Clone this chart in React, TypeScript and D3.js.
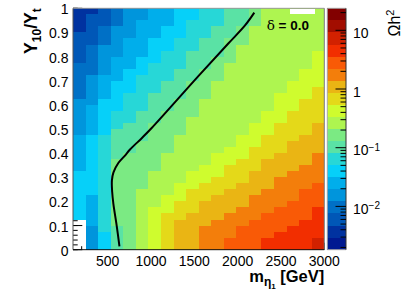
import React from "react";
import * as d3 from "d3";

// ---- bins ----
const massEdges = [100, 245, 390, 535, 680, 825, 970, 1115, 1260, 1405, 1550, 1695, 1840, 1985, 2130, 2275, 2420, 2565, 2710, 2855, 3000];
const ratioBinWidth = 0.025;

// ---- Omega h^2 per column, as runs [value, number of ratio bins] from Y10/Yt = 0 upward (null = empty bin) ----
const col00: [number | null, number][] = [[null, 5], [0.0397, 8], [0.0247, 6], [0.0154, 6], [0.0096, 6], [0.006, 5], [0.0037, 4]];
const col01: [number | null, number][] = [[0.0154, 4], [0.0247, 5], [0.0397, 10], [0.0247, 5], [0.0154, 5], [0.0096, 5], [0.006, 5], [0.0037, 1]];
const col02: [number | null, number][] = [[0.0397, 3], [0.0638, 16], [0.0397, 6], [0.0247, 4], [0.0154, 5], [0.0096, 3], [0.006, 3]];
const col03: [number | null, number][] = [[0.102, 4], [0.164, 11], [0.102, 5], [0.0638, 3], [0.0397, 5], [0.0247, 4], [0.0154, 5], [0.0096, 3]];
const col04: [number | null, number][] = [[0.164, 16], [0.102, 5], [0.0638, 5], [0.0397, 4], [0.0247, 5], [0.0154, 5]];
const col05: [number | null, number][] = [[0.264, 10], [0.164, 8], [0.102, 5], [0.0638, 6], [0.0397, 3], [0.0247, 6], [0.0154, 2]];
const col06: [number | null, number][] = [[0.424, 7], [0.264, 6], [0.164, 8], [0.102, 5], [0.0638, 5], [0.0397, 4], [0.0247, 5]];
const col07: [number | null, number][] = [[0.681, 6], [0.424, 3], [0.264, 7], [0.164, 7], [0.102, 5], [0.0638, 5], [0.0397, 4], [0.0247, 3]];
const col08: [number | null, number][] = [[1.09, 5], [0.681, 3], [0.424, 3], [0.264, 8], [0.164, 6], [0.102, 5], [0.0638, 5], [0.0397, 5]];
const col09: [number | null, number][] = [[1.09, 6], [0.681, 4], [0.424, 3], [0.264, 9], [0.164, 6], [0.102, 5], [0.0638, 5], [0.0397, 2]];
const col10: [number | null, number][] = [[1.75, 4], [1.09, 4], [0.681, 3], [0.424, 3], [0.264, 11], [0.164, 5], [0.102, 5], [0.0638, 5]];
const col11: [number | null, number][] = [[1.75, 5], [1.09, 4], [0.681, 3], [0.424, 4], [0.264, 12], [0.164, 4], [0.102, 5], [0.0638, 3]];
const col12: [number | null, number][] = [[2.82, 2], [1.75, 4], [1.09, 4], [0.681, 4], [0.424, 3], [0.264, 14], [0.164, 4], [0.102, 5]];
const col13: [number | null, number][] = [[2.82, 4], [1.75, 3], [1.09, 4], [0.681, 4], [0.424, 4], [0.264, 15], [0.164, 3], [0.102, 3]];
const col14: [number | null, number][] = [[2.82, 5], [1.75, 4], [1.09, 4], [0.681, 4], [0.424, 4], [0.264, 16], [0.164, 3]];
const col15: [number | null, number][] = [[4.53, 2], [2.82, 4], [1.75, 4], [1.09, 5], [0.681, 4], [0.424, 4], [0.264, 17]];
const col16: [number | null, number][] = [[4.53, 3], [2.82, 4], [1.75, 5], [1.09, 4], [0.681, 5], [0.424, 5], [0.264, 14]];
const col17: [number | null, number][] = [[4.53, 4], [2.82, 4], [1.75, 5], [1.09, 5], [0.681, 5], [0.424, 5], [0.264, 12]];
const col18: [number | null, number][] = [[4.53, 5], [2.82, 5], [1.75, 4], [1.09, 5], [0.681, 6], [0.424, 5], [0.264, 10]];
const col19: [number | null, number][] = [[7.27, 2], [4.53, 5], [2.82, 4], [1.75, 5], [1.09, 5], [0.681, 6], [0.424, 6], [0.264, 7]];
const columns = [col00, col01, col02, col03, col04, col05, col06, col07, col08, col09, col10, col11, col12, col13, col14, col15, col16, col17, col18, col19];

// ---- relic-density contour (black line) ----
const curveMass = [636, 604, 566, 552, 549, 567, 625, 700, 758, 893, 1008, 1557, 1892, 2085, 2192];
const curveRatio = [0.014, 0.1, 0.19, 0.24, 0.287, 0.32, 0.36, 0.39, 0.415, 0.462, 0.504, 0.723, 0.854, 0.929, 0.982];

// ---- axes ----
const xTicks = [500, 1000, 1500, 2000, 2500, 3000];
const xTickLabels = ["500", "1000", "1500", "2000", "2500", "3000"];
const yTicks = [0, 0.1, 0.2, 0.3, 0.4, 0.5, 0.6, 0.7, 0.8, 0.9, 1];
const yTickLabels = ["0", "0.1", "0.2", "0.3", "0.4", "0.5", "0.6", "0.7", "0.8", "0.9", "1"];
const zMin = 0.00183;
const zMax = 23.7;
const zMajor = [0.01, 0.1, 1, 10];
const zMajorBase = ["10", "10", "1", "10"];
const zMajorExp = ["\u22122", "\u22121", "", ""];
const nContours = 20;

const FONT = "'Liberation Sans', Arial, Helvetica, sans-serif";

export default function App() {
  const L = 73, R = 324.3, T = 8.3, B = 249.7;
  const x = d3.scaleLinear().domain([100, 3000]).range([L, R]);
  const y = d3.scaleLinear().domain([0, 1]).range([B, T]);
  const zAxis = d3.scaleLog().domain([zMin, zMax]).range([B, T]);
  const lmin = Math.log10(zMin), lmax = Math.log10(zMax);
  const bandOf = (v: number) =>
    Math.max(0, Math.min(nContours - 1, Math.floor(((Math.log10(v) - lmin) / (lmax - lmin)) * nContours)));
  const grad = d3
    .scaleLinear<string>()
    .domain([0, 0.34, 0.61, 0.84, 1])
    .range(["rgb(0,0,130)", "rgb(0,207,255)", "rgb(222,255,31)", "rgb(255,51,0)", "rgb(130,0,0)"])
    .interpolate(d3.interpolateRgb);
  const bandColor = (i: number) => grad(Math.floor(((i + 0.99) * 50) / nContours) / 49);

  const cells: JSX.Element[] = [];
  columns.forEach((runs, c) => {
    let row = 0;
    runs.forEach(([v, n]) => {
      for (let k = 0; k < n; k++) {
        if (v !== null) {
          const y0 = (row + k) * ratioBinWidth;
          const y1 = y0 + ratioBinWidth;
          cells.push(
            <rect
              key={`c${c}r${row + k}`}
              x={x(massEdges[c])}
              y={y(y1)}
              width={x(massEdges[c + 1]) - x(massEdges[c])}
              height={y(y0) - y(y1)}
              fill={bandColor(bandOf(v))}
              shapeRendering="crispEdges"
            />
          );
        }
      }
      row += n;
    });
  });

  const xMinor = d3.range(200, 3000, 100).filter((m) => m % 500 !== 0);
  const yMinor = d3.range(0, 51).map((i) => i * 0.02);

  const line = d3
    .line<number>()
    .x((i) => x(curveMass[i]))
    .y((i) => y(curveRatio[i]))
    .curve(d3.curveCatmullRom.alpha(0.5));
  const curvePath = line(curveMass.map((_, i) => i)) || "";

  // colour bar
  const CB0 = 327.3, CB1 = 346;
  const bandEdges = d3.range(nContours + 1).map((i) => Math.pow(10, lmin + ((lmax - lmin) * i) / nContours));
  const zMinor: number[] = [];
  [0.001, 0.01, 0.1, 1, 10].forEach((d) => {
    for (let k = 2; k <= 9; k++) {
      const v = d * k;
      if (v > zMin && v < zMax) zMinor.push(v);
    }
  });

  return (
    <svg
      width={407}
      height={295}
      style={{ position: "absolute", left: 0, top: 0, background: "#fff" }}
      fontFamily={FONT}
    >
      <rect x={0} y={0} width={407} height={295} fill="#fff" />
      {/* axis ticks (drawn under the cells, as in the original) */}
      {yTicks.map((t) => (
        <line key={`yt${t}`} x1={L} x2={L + 9.3} y1={y(t)} y2={y(t)} stroke="#000" strokeWidth={1} />
      ))}
      {yMinor.map((t, i) => (
        <line key={`ym${i}`} x1={L} x2={L + 4.7} y1={y(t)} y2={y(t)} stroke="#000" strokeWidth={1} />
      ))}
      {xTicks.map((t) => (
        <line key={`xt${t}`} x1={x(t)} x2={x(t)} y1={B} y2={B - 7} stroke="#000" strokeWidth={1} />
      ))}
      {xMinor.map((t) => (
        <line key={`xm${t}`} x1={x(t)} x2={x(t)} y1={B} y2={B - 3.5} stroke="#000" strokeWidth={1} />
      ))}
      {cells}
      {/* frame */}
      <line x1={L} x2={R} y1={T} y2={T} stroke="#999" strokeWidth={1} />
      <line x1={R} x2={R} y1={T} y2={B} stroke="#777" strokeWidth={1} />
      <line x1={L} x2={L} y1={T} y2={B} stroke="#555" strokeWidth={1} />
      <line x1={L} x2={R} y1={B} y2={B} stroke="#111" strokeWidth={1} />
      {/* contour */}
      <path d={curvePath} fill="none" stroke="#000" strokeWidth={2} />
      {/* label box */}
      <rect x={290} y={9} width={25} height={5} fill="#fff" />
      <text x={266.7} y={29.5} fontSize={13.5} fill="#000">
        <tspan fontFamily="'DejaVu Serif', 'Liberation Serif', serif">δ</tspan>
        <tspan fontWeight="bold"> = 0.0</tspan>
      </text>
      {/* y tick labels */}
      {yTicks.map((t, i) => (
        <text key={`yl${t}`} x={68.5} y={y(t) + 6} fontSize={14} textAnchor="end" fill="#000">
          {yTickLabels[i]}
        </text>
      ))}
      {/* x tick labels */}
      {xTicks.map((t, i) => (
        <text key={`xl${t}`} x={x(t)} y={265.5} fontSize={14} textAnchor="middle" fill="#000">
          {xTickLabels[i]}
        </text>
      ))}
      {/* axis titles */}
      <text x={R} y={282} fontSize={16.5} fontWeight="bold" textAnchor="end" fill="#000">
        m
        <tspan dy={4} fontSize={12}>η</tspan>
        <tspan dy={3} fontSize={8}>1</tspan>
        <tspan dy={-7} fontSize={16.5}> [GeV]</tspan>
      </text>
      <text transform={`translate(37,${T}) rotate(-90)`} fontSize={17.5} fontWeight="bold" textAnchor="end" fill="#000">
        Y<tspan dy={4} fontSize={12}>10</tspan>
        <tspan dy={-4}>/Y</tspan>
        <tspan dy={4} fontSize={12}>t</tspan>
      </text>
      {/* colour bar */}
      {d3.range(nContours).map((i) => (
        <rect
          key={`cb${i}`}
          x={CB0}
          y={zAxis(bandEdges[i + 1])}
          width={CB1 - CB0}
          height={zAxis(bandEdges[i]) - zAxis(bandEdges[i + 1])}
          fill={bandColor(i)}
          shapeRendering="crispEdges"
        />
      ))}
      <line x1={CB0} x2={CB0} y1={T} y2={B} stroke="#aaa" strokeWidth={1} />
      <line x1={CB0} x2={CB1} y1={T} y2={T} stroke="#aaa" strokeWidth={1} />
      <line x1={CB0} x2={CB1} y1={B} y2={B} stroke="#aaa" strokeWidth={1} />
      <line x1={CB1} x2={CB1} y1={T} y2={B} stroke="#333" strokeWidth={1} />
      {zMajor.map((v) => (
        <line key={`zt${v}`} x1={CB1} x2={CB1 - 10.5} y1={zAxis(v)} y2={zAxis(v)} stroke="#000" strokeWidth={1} />
      ))}
      {zMinor.map((v) => (
        <line key={`zm${v}`} x1={CB1} x2={CB1 - 5.5} y1={zAxis(v)} y2={zAxis(v)} stroke="#000" strokeWidth={1} />
      ))}
      {zMajor.map((v, i) => (
        <text key={`zl${v}`} x={353} y={zAxis(v) + 7.5} fontSize={14} fill="#000">
          {zMajorBase[i]}
          {zMajorExp[i] ? (
            <tspan dy={-4.5} fontSize={10}>
              {zMajorExp[i]}
            </tspan>
          ) : null}
        </text>
      ))}
      <text transform={`translate(400,9.5) rotate(-90)`} fontSize={16} textAnchor="end" fill="#000">
        Ωh<tspan dy={-6} fontSize={11}>2</tspan>
      </text>
    </svg>
  );
}
